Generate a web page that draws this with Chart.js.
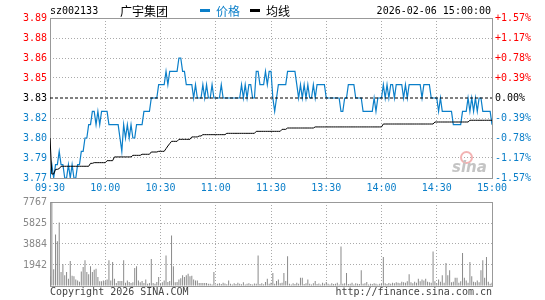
<!DOCTYPE html>
<html>
<head>
<meta charset="utf-8">
<script src="https://cdn.jsdelivr.net/npm/chart.js@4.4.0/dist/chart.umd.min.js"></script>
<style>
  body { margin: 0; background: #fff; }
  #wrap { position: relative; width: 545px; height: 300px; overflow: hidden; font-family: "DejaVu Sans Mono", monospace; font-size: 10px; }
  #wrap canvas { position: absolute; left: 0; }
  .t { position: absolute; white-space: nowrap; line-height: 12px; }
  .cn { font-family: "Noto Sans CJK SC", sans-serif; font-size: 12px; line-height: 14px; }
  .key { position: absolute; width: 10px; height: 3px; }
</style>
</head>
<body>
<div id="wrap">
  <canvas id="priceChart" width="545" height="196" style="top:0"></canvas>
  <canvas id="volChart" width="545" height="108" style="top:192px"></canvas>

  <div class="t" style="left:50px;top:5px;color:#000">sz002133</div>
  <div class="t cn" style="left:120px;top:4px;color:#000">广宇集团</div>
  <div class="key" style="left:200px;top:9px;background:#0b7fc9"></div>
  <div class="t cn" style="left:216px;top:4px;color:#0b7fc9">价格</div>
  <div class="key" style="left:250px;top:9px;background:#000"></div>
  <div class="t cn" style="left:266px;top:4px;color:#000">均线</div>
  <div class="t" style="right:54px;top:5px;color:#000">2026-02-06 15:00:00</div>

  <div class="t" style="left:50px;top:286px;color:#444">Copyright 2026 SINA.COM</div>
  <div class="t" style="right:53px;top:286px;color:#444">http://finance.sina.com.cn</div>

  <div style="position:absolute;left:460px;top:151px;width:9px;height:9px;border-radius:50%;border:2px solid #f3b3b3"></div>
  <div class="t" style="left:452px;top:159px;font:italic bold 15px 'DejaVu Sans',sans-serif;color:#c4c4c4;line-height:16px">sina</div>
</div>

<script>
const prevClose = 3.83;

const timeTicks = [0, 30, 60, 90, 120, 150, 180, 210, 240];
const timeLabels = ['09:30', '10:00', '10:30', '11:00', '11:30', '13:30', '14:00', '14:30', '15:00'];

const priceTicks = [3.77, 3.785, 3.80, 3.815, 3.83, 3.845, 3.86, 3.875, 3.89];
const priceLabels = ['3.77', '3.79', '3.80', '3.82', '3.83', '3.85', '3.86', '3.88', '3.89'];
const pctLabels = ['-1.57%', '-1.17%', '-0.78%', '-0.39%', '0.00%', '+0.39%', '+0.78%', '+1.17%', '+1.57%'];

const volTicks = [0, 1942, 3884, 5825, 7767];

// one value per minute, 09:30 .. 11:30 then 13:00 .. 15:00 (241 points)
const price = [
  3.77,3.78,3.77,3.78,3.78,3.79,3.78,3.78,3.77,3.77,
  3.78,3.77,3.78,3.77,3.77,3.78,3.78,3.79,3.79,3.80,
  3.80,3.81,3.81,3.82,3.82,3.81,3.82,3.81,3.82,3.82,
  3.82,3.82,3.81,3.81,3.81,3.81,3.81,3.81,3.80,3.79,
  3.81,3.80,3.81,3.80,3.81,3.80,3.80,3.81,3.81,3.81,
  3.81,3.82,3.82,3.82,3.82,3.83,3.83,3.83,3.83,3.84,
  3.84,3.84,3.84,3.85,3.84,3.85,3.85,3.85,3.85,3.85,
  3.86,3.86,3.85,3.85,3.84,3.84,3.84,3.84,3.83,3.84,
  3.83,3.83,3.83,3.84,3.83,3.84,3.83,3.83,3.84,3.83,
  3.83,3.83,3.83,3.84,3.83,3.83,3.83,3.83,3.83,3.83,
  3.83,3.83,3.83,3.83,3.84,3.83,3.84,3.83,3.84,3.84,
  3.83,3.83,3.85,3.85,3.84,3.84,3.84,3.85,3.84,3.85,
  3.85,3.83,3.82,3.83,3.84,3.84,3.84,3.84,3.84,3.85,
  3.85,3.85,3.85,3.85,3.84,3.83,3.84,3.83,3.84,3.83,
  3.84,3.83,3.83,3.84,3.83,3.84,3.84,3.84,3.84,3.84,
  3.83,3.83,3.83,3.83,3.83,3.83,3.83,3.83,3.82,3.82,
  3.83,3.83,3.84,3.84,3.84,3.84,3.83,3.83,3.83,3.83,
  3.82,3.82,3.82,3.82,3.82,3.82,3.83,3.82,3.83,3.83,
  3.83,3.84,3.83,3.84,3.83,3.84,3.84,3.83,3.84,3.84,
  3.84,3.84,3.83,3.84,3.83,3.84,3.84,3.84,3.84,3.84,
  3.84,3.84,3.83,3.84,3.84,3.84,3.84,3.83,3.83,3.83,
  3.83,3.82,3.83,3.82,3.82,3.82,3.82,3.82,3.82,3.81,
  3.81,3.81,3.81,3.81,3.82,3.82,3.82,3.83,3.82,3.83,
  3.82,3.83,3.82,3.83,3.83,3.82,3.82,3.82,3.82,3.82,
  3.81
];

const avgPrice = [
  3.800,3.773,3.773,3.7765,3.7765,3.777,3.7788,3.7788,3.7788,3.7788,
  3.7788,3.7788,3.7788,3.7788,3.7788,3.7788,3.7788,3.7788,3.7788,3.7788,
  3.7788,3.7788,3.781,3.781,3.7815,3.7815,3.7815,3.7815,3.7815,3.7815,
  3.7815,3.783,3.783,3.783,3.783,3.7858,3.7858,3.7858,3.7858,3.7858,
  3.7858,3.7858,3.7858,3.7858,3.7858,3.787,3.787,3.787,3.787,3.787,
  3.7878,3.7878,3.7878,3.7878,3.7878,3.7895,3.7895,3.7895,3.7895,3.790,
  3.790,3.790,3.790,3.792,3.794,3.7958,3.7975,3.7975,3.7975,3.7975,
  3.799,3.799,3.799,3.799,3.799,3.799,3.799,3.8008,3.8008,3.8008,
  3.8008,3.8015,3.8015,3.8025,3.8025,3.8025,3.8025,3.8025,3.8025,3.8025,
  3.8025,3.8025,3.8025,3.8025,3.8025,3.8025,3.8035,3.8035,3.8035,3.8035,
  3.8035,3.8035,3.8035,3.8035,3.8035,3.8035,3.8035,3.8035,3.8035,3.8035,
  3.8035,3.8035,3.805,3.805,3.805,3.805,3.805,3.805,3.805,3.805,
  3.805,3.805,3.805,3.805,3.805,3.805,3.8065,3.8065,3.8065,3.8075,
  3.8075,3.8075,3.8075,3.8075,3.8075,3.8075,3.8075,3.8075,3.8075,3.8075,
  3.8075,3.8075,3.8075,3.8075,3.8083,3.8083,3.8083,3.8083,3.8083,3.8083,
  3.8083,3.8083,3.8083,3.8083,3.8083,3.8083,3.8083,3.8083,3.8083,3.8083,
  3.8083,3.8083,3.8083,3.8083,3.8083,3.8083,3.8083,3.8083,3.8083,3.8083,
  3.8083,3.8083,3.8083,3.8083,3.8083,3.8083,3.8083,3.8083,3.8083,3.8083,
  3.8083,3.8105,3.8105,3.8105,3.8105,3.8105,3.8105,3.8105,3.8105,3.8105,
  3.8105,3.8105,3.8105,3.8105,3.8105,3.8105,3.8105,3.8105,3.8105,3.8105,
  3.8105,3.8105,3.8105,3.8105,3.8105,3.8105,3.8105,3.8105,3.8105,3.812,
  3.812,3.812,3.812,3.812,3.812,3.812,3.812,3.812,3.812,3.812,
  3.812,3.812,3.812,3.812,3.812,3.812,3.812,3.812,3.8133,3.8133,
  3.8133,3.8133,3.8133,3.8133,3.8133,3.8133,3.8133,3.8133,3.8133,3.8133,
  3.8133
];

const volume = [
  900,7767,1540,4770,4130,5880,1300,2000,990,1300,
  680,2310,950,900,590,520,400,1350,1750,2370,
  1300,1080,1820,1300,1500,1600,830,430,430,520,
  460,590,2370,520,2220,680,280,460,460,460,
  2370,310,520,370,280,340,1660,1820,520,340,
  460,280,590,215,280,2500,280,215,370,830,
  215,340,520,2830,370,460,4680,1820,340,370,
  590,710,990,830,990,1140,890,950,590,520,
  520,280,280,280,280,280,215,215,150,1300,
  150,200,250,180,300,220,160,520,200,150,
  250,180,300,200,160,350,150,200,260,180,
  150,220,200,2830,180,250,160,370,680,200,
  300,1200,200,460,590,250,300,1200,460,2740,
  200,150,250,180,300,200,770,770,180,250,
  590,200,150,250,460,180,220,150,300,200,
  370,200,150,250,180,200,300,150,3660,200,
  250,1200,180,200,300,150,250,200,180,1450,
  200,250,370,150,200,180,250,200,150,200,
  200,2680,250,180,280,200,300,250,350,300,
  250,400,350,300,450,1080,350,250,400,300,
  680,450,590,520,680,400,350,300,3200,450,
  250,590,400,990,300,2125,990,1450,350,400,
  770,770,300,450,3050,770,520,300,2220,890,
  400,350,520,350,1450,2370,770,2680,400,215,
  300
];

Chart.defaults.font.family = '"DejaVu Sans Mono", monospace';
Chart.defaults.font.size = 10;
Chart.defaults.animation = false;

const BLUE = '#0b7fc9';
const GRID = '#aaaaaa';

// gray frame round the plot area
const frame = {
  id: 'frame',
  beforeDatasetsDraw(chart) {
    const { ctx, chartArea: a } = chart;
    ctx.save();
    ctx.strokeStyle = '#999';
    ctx.lineWidth = 1;
    ctx.strokeRect(Math.round(a.left) + 0.5, Math.round(a.top) + 0.5,
      Math.round(a.right - a.left), Math.round(a.bottom - a.top));
    ctx.restore();
  }
};

function tickColor(v) {
  if (Math.abs(v - prevClose) < 1e-6) return '#000';
  return v > prevClose ? '#ff0000' : BLUE;
}

const xs = price.map((_, i) => i);

new Chart(document.getElementById('priceChart'), {
  type: 'line',
  data: {
    datasets: [
      {
        data: [{ x: 0, y: prevClose }, { x: 240, y: prevClose }],
        borderColor: '#000', borderWidth: 1, borderDash: [3, 2], pointRadius: 0
      },
      {
        data: xs.map(i => ({ x: i, y: avgPrice[i] })),
        borderColor: '#000', borderWidth: 1, pointRadius: 0
      },
      {
        data: xs.map(i => ({ x: i, y: price[i] })),
        borderColor: BLUE, borderWidth: 1.2, pointRadius: 0
      }
    ]
  },
  options: {
    responsive: false,
    layout: { padding: { top: 18 } },
    plugins: { legend: { display: false }, tooltip: { enabled: false } },
    scales: {
      x: {
        type: 'linear', min: 0, max: 240,
        afterBuildTicks: s => { s.ticks = timeTicks.map(v => ({ value: v })); },
        afterFit: s => { s.height = 18; },
        ticks: { color: BLUE, padding: 4, maxRotation: 0, callback: (v, i) => timeLabels[i] },
        grid: { color: GRID, drawTicks: false },
        border: { display: false, dash: [1, 2] }
      },
      y: {
        min: 3.77, max: 3.89,
        afterBuildTicks: s => { s.ticks = priceTicks.map(v => ({ value: v })); },
        afterFit: s => { s.width = 50; },
        ticks: {
          padding: 3,
          color: c => tickColor(c.tick.value),
          callback: (v, i) => priceLabels[i]
        },
        grid: {
          drawTicks: false,
          color: c => (c.tick && Math.abs(c.tick.value - prevClose) < 1e-6) ? 'rgba(0,0,0,0)' : GRID
        },
        border: { display: false, dash: [1, 2] }
      },
      y2: {
        position: 'right', min: 3.77, max: 3.89,
        afterBuildTicks: s => { s.ticks = priceTicks.map(v => ({ value: v })); },
        afterFit: s => { s.width = 53; },
        ticks: {
          padding: 3,
          color: c => tickColor(c.tick.value),
          callback: (v, i) => pctLabels[i]
        },
        grid: { drawOnChartArea: false, drawTicks: false },
        border: { display: false }
      }
    }
  },
  plugins: [frame]
});

new Chart(document.getElementById('volChart'), {
  type: 'bar',
  data: {
    datasets: [{
      data: xs.map(i => ({ x: i, y: volume[i] })),
      backgroundColor: '#8a8a8a',
      barThickness: 1,
      inflateAmount: 0
    }]
  },
  options: {
    responsive: false,
    layout: { padding: { top: 10, right: 53 } },
    plugins: { legend: { display: false }, tooltip: { enabled: false } },
    scales: {
      x: {
        type: 'linear', min: 0, max: 240, offset: false,
        afterBuildTicks: s => { s.ticks = timeTicks.map(v => ({ value: v })); },
        afterFit: s => { s.height = 14; },
        ticks: { display: false },
        grid: { color: GRID, drawTicks: false, offset: false },
        border: { display: false, dash: [1, 2] }
      },
      y: {
        min: 0, max: 7767,
        afterBuildTicks: s => { s.ticks = volTicks.map(v => ({ value: v })); },
        afterFit: s => { s.width = 50; },
        ticks: { color: '#888', padding: 3, callback: v => v === 0 ? '' : String(v) },
        grid: { color: GRID, drawTicks: false },
        border: { display: false, dash: [1, 2] }
      }
    }
  },
  plugins: [frame]
});
</script>
</body>
</html>
